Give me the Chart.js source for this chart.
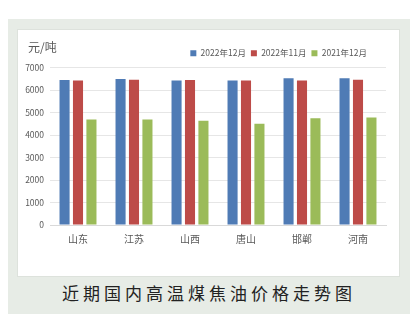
<!DOCTYPE html>
<html lang="zh">
<head>
<meta charset="UTF-8">
<title>近期国内高温煤焦油价格走势图</title>
<script src="https://cdn.jsdelivr.net/npm/chart.js"></script>
<style>
    body {
        margin: 0;
        background: #ffffff;
        font-family: "Noto Sans CJK SC", sans-serif;
    }
    .panel {
        position: absolute;
        left: 8px;
        top: 19px;
        width: 402px;
        height: 295px;
        background: #e7ece6;
    }
    .card {
        position: absolute;
        left: 9px;
        top: 10px;
        width: 381px;
        height: 246px;
        background: #ffffff;
        border: 1px solid #dde2dc;
    }
    .unit {
        position: absolute;
        left: 10px;
        top: 8px;
        font-size: 12px;
        color: #595959;
    }
    .caption {
        position: absolute;
        left: 0;
        width: 402px;
        top: 261px;
        text-align: center;
        font-size: 17px;
        letter-spacing: 4px;
        color: #222222;
    }
</style>
</head>
<body>
<div class="panel">
    <div class="card">
        <canvas id="priceChart" width="381" height="246"></canvas>
        <div class="unit">元/吨</div>
    </div>
    <div class="caption">近期国内高温煤焦油价格走势图</div>
</div>

<script>
const regions = ['山东', '江苏', '山西', '唐山', '邯郸', '河南'];
const seriesNames = ['2022年12月', '2022年11月', '2021年12月'];
const dec2022 = [6450, 6490, 6420, 6420, 6520, 6520];
const nov2022 = [6420, 6460, 6450, 6420, 6420, 6460];
const dec2021 = [4690, 4690, 4630, 4500, 4740, 4780];
const colors = ['#4f7bb5', '#bd4b48', '#9bbb59'];

const font = '"Noto Sans CJK SC", sans-serif';

// pull the legend a little in from the right edge
const legendShift = {
    id: 'legendShift',
    afterLayout(chart) {
        chart.legend.right -= 14;
    }
};

new Chart(document.getElementById('priceChart'), {
    type: 'bar',
    data: {
        labels: regions,
        datasets: [dec2022, nov2022, dec2021].map((values, i) => ({
            label: seriesNames[i],
            data: values,
            backgroundColor: colors[i],
            categoryPercentage: 0.72,
            barPercentage: 0.75
        }))
    },
    plugins: [legendShift],
    options: {
        responsive: false,
        animation: false,
        layout: { padding: { top: 14, right: 13, bottom: 31, left: 0 } },
        plugins: {
            legend: {
                position: 'top',
                align: 'end',
                labels: {
                    boxWidth: 6,
                    boxHeight: 6,
                    padding: 5,
                    color: '#595959',
                    font: { family: font, size: 8.5 }
                }
            },
            tooltip: { enabled: false }
        },
        scales: {
            x: {
                grid: { display: false },
                border: { color: '#d9d9d9' },
                ticks: {
                    color: '#595959',
                    padding: 0,
                    font: { family: font, size: 10 }
                }
            },
            y: {
                min: 0,
                max: 7000,
                afterFit(scale) { scale.width = 32; },
                grid: { color: '#e6e6e6', drawTicks: false },
                border: { display: false },
                ticks: {
                    stepSize: 1000,
                    padding: 6,
                    color: '#595959',
                    font: { family: font, size: 8.5 },
                    callback: v => String(v)
                }
            }
        }
    }
});
</script>
</body>
</html>
